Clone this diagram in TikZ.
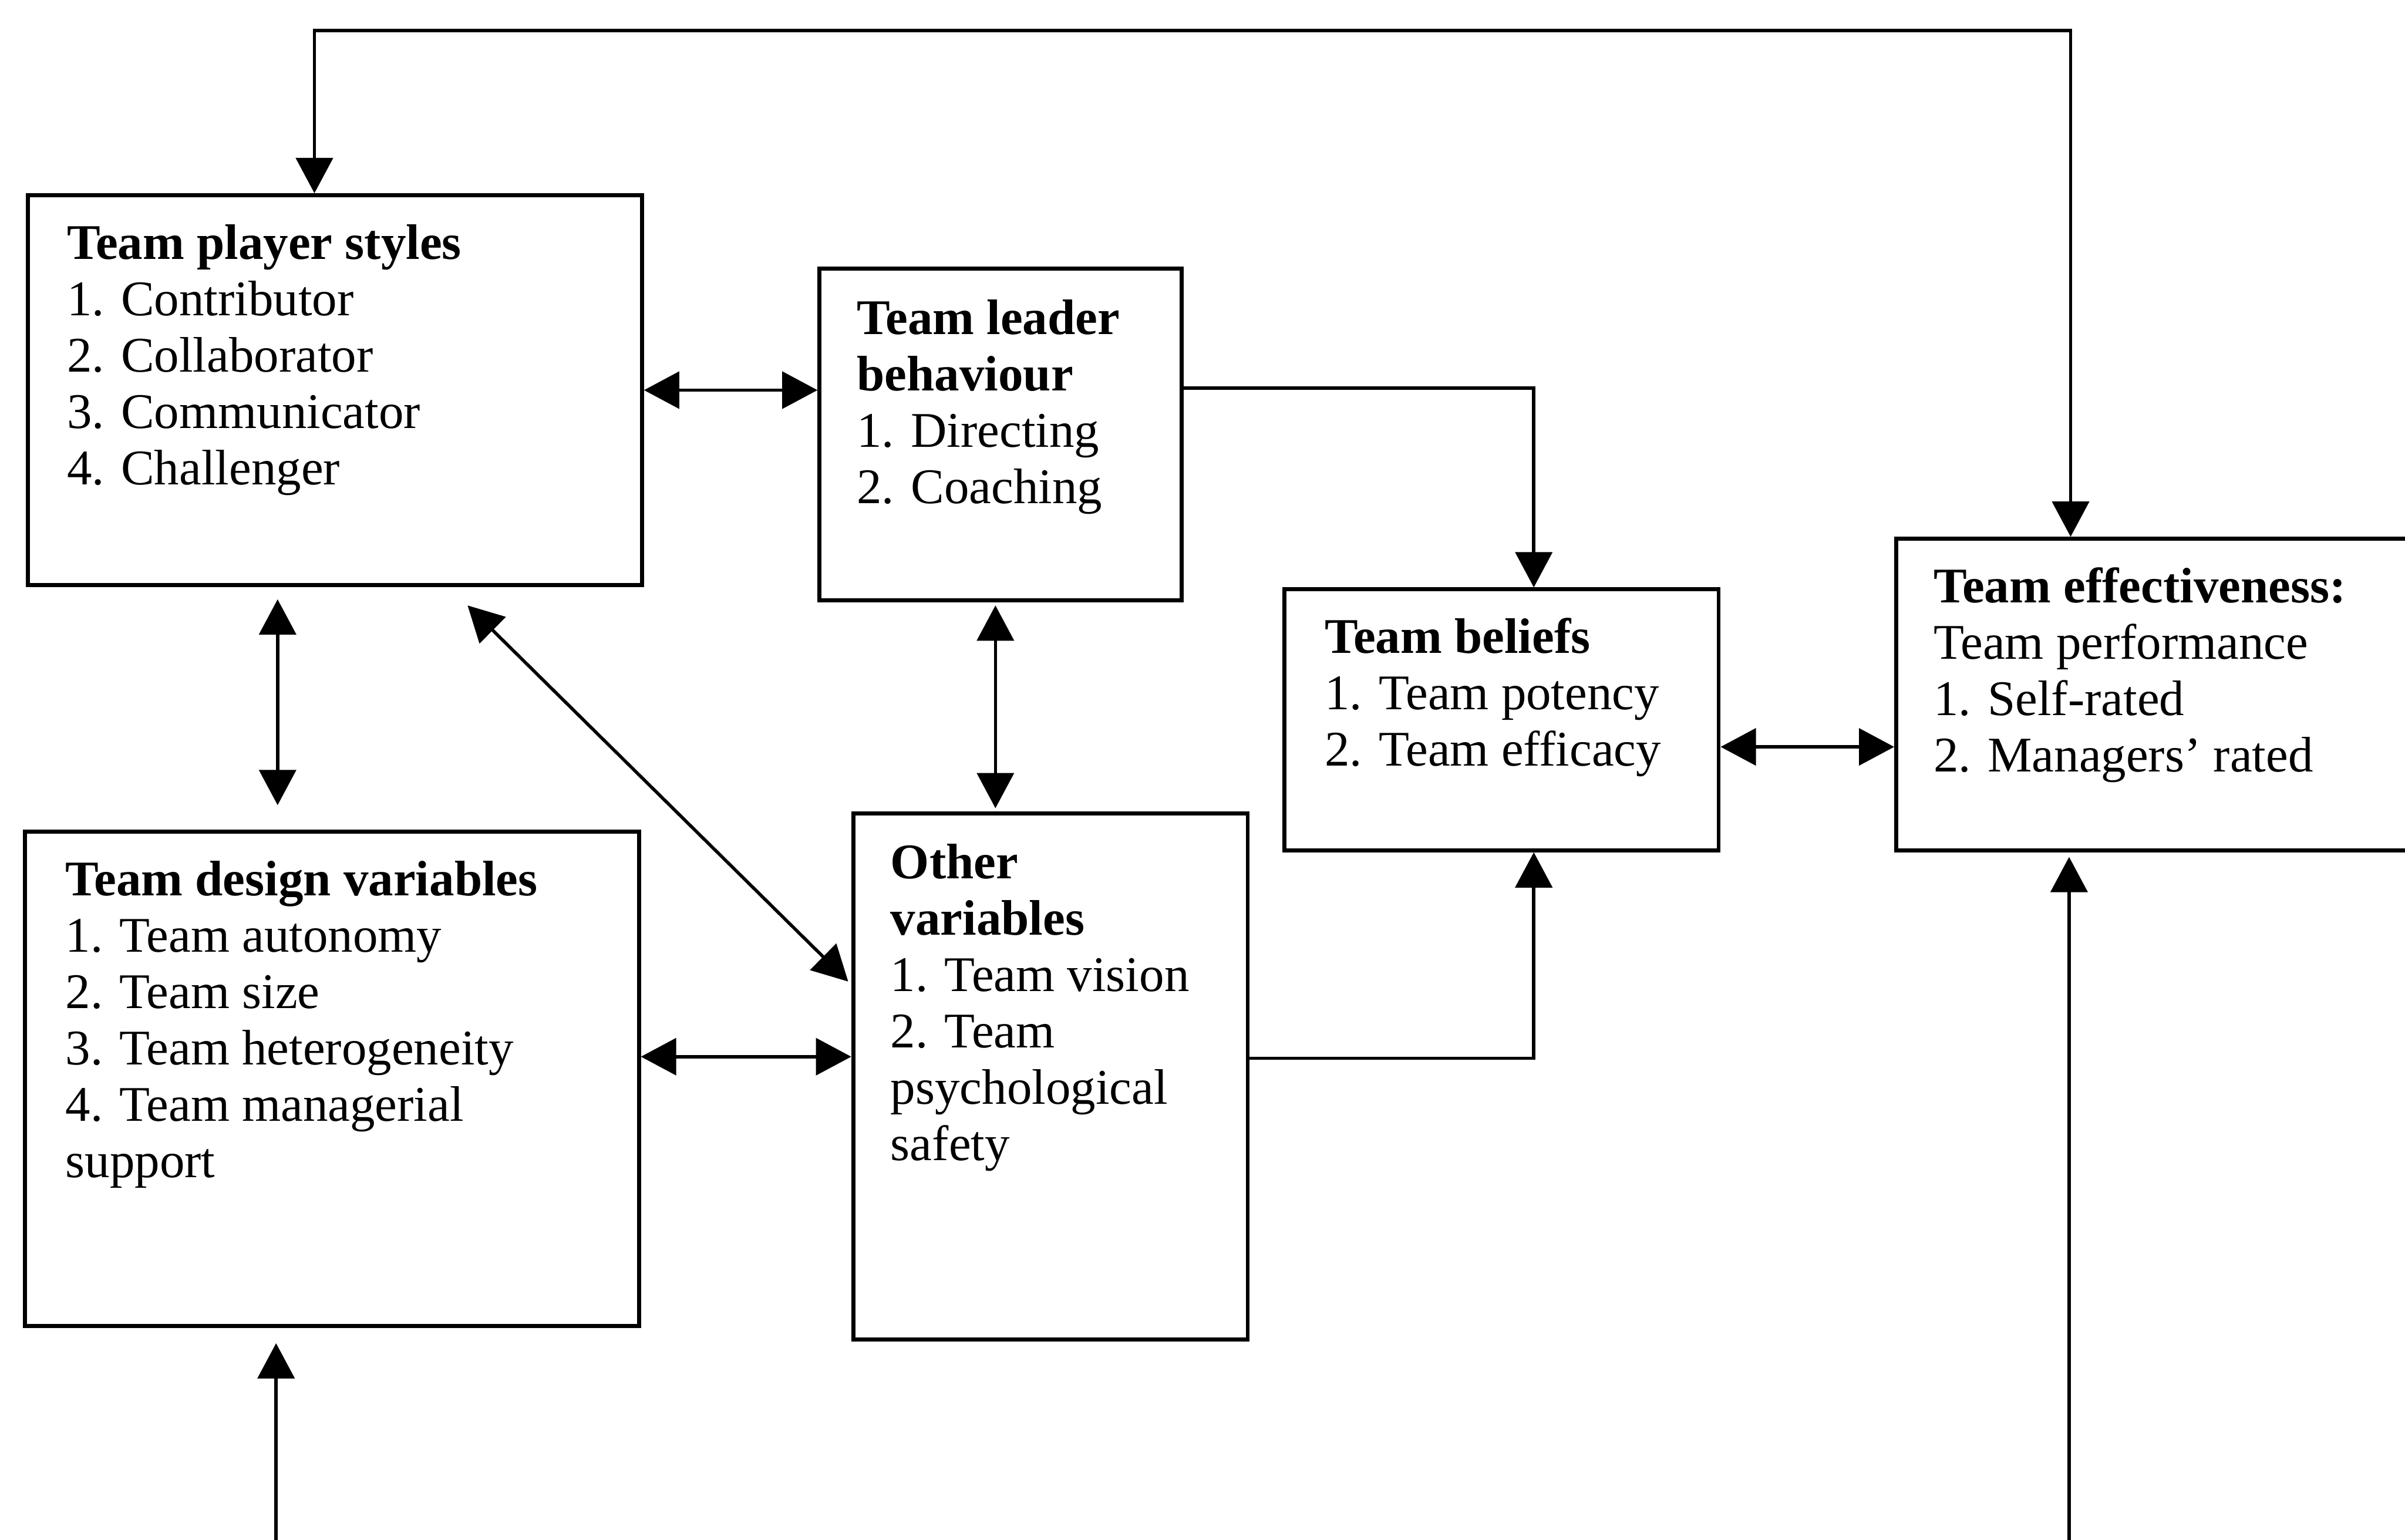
\documentclass[tikz,border=0pt]{standalone}
\usepackage{fontspec}
\setmainfont{Liberation Serif}
\usetikzlibrary{arrows.meta,calc}

\begin{document}
\begin{tikzpicture}[x=0.01cm,y=-0.01cm,
  box/.style={draw, line width=0.75pt, inner sep=0pt, anchor=north west},
  txt/.style={inner sep=0pt, anchor=base west, font=\fontsize{9.25pt}{10.45pt}\selectfont},
  conn/.style={line width=0.6pt},
  head/.style={-{Triangle[length=0.23cm,width=0.24cm]}},
  dbl/.style={{Triangle[length=0.23cm,width=0.24cm]}-{Triangle[length=0.23cm,width=0.24cm]}}
]
\useasboundingbox (0,0) rectangle (1568,1004);
\clip (0,0) rectangle (1568,1004);

% boxes
\node[box, minimum width=4cm,    minimum height=2.54cm] (tps) at (17,126) {};
\node[box, minimum width=2.36cm, minimum height=2.16cm] (tlb) at (533,174) {};
\node[box, minimum width=2.83cm, minimum height=1.70cm] (tb)  at (836,383) {};
\node[box, minimum width=4.2cm,  minimum height=2.03cm] (te)  at (1235,350) {};
\node[box, minimum width=4cm,    minimum height=3.22cm] (tdv) at (15,541) {};
\node[box, minimum width=2.57cm, minimum height=3.43cm] (ov)  at (555,529) {};

% box texts
\node[txt] (tpsT) at (43,169) {\parbox[t]{3.8cm}{\raggedright
  \textbf{Team player styles}\\1. Contributor\\2. Collaborator\\3. Communicator\\4. Challenger}};
\node[txt] (tlbT) at (558,218) {\parbox[t]{2.2cm}{\raggedright
  \textbf{Team leader}\\\textbf{behaviour}\\1. Directing\\2. Coaching}};
\node[txt] (tbT) at (863,426) {\parbox[t]{2.6cm}{\raggedright
  \textbf{Team beliefs}\\1. Team potency\\2. Team efficacy}};
\node[txt] (teT) at (1260,393) {\parbox[t]{3cm}{\raggedright
  \textbf{Team effectiveness:}\\Team performance\\1. Self-rated\\2. Managers’ rated}};
\node[txt] (tdvT) at (42,584) {\parbox[t]{3.8cm}{\raggedright
  \textbf{Team design variables}\\1. Team autonomy\\2. Team size\\3. Team heterogeneity\\4. Team managerial\\support}};
\node[txt] (ovT) at (580,573) {\parbox[t]{2.4cm}{\raggedright
  \textbf{Other}\\\textbf{variables}\\1. Team vision\\2. Team\\psychological\\safety}};

% free ends of the incoming lines at the lower edge
\coordinate (inL) at (180,1004);
\coordinate (inR) at (1349,1004);

% connectors
\draw[conn,dbl] (tps.east) -- (tps.east -| tlb.west);
\draw[conn,dbl] ($(tps.south west)+(164,8)$) -- ($(tdv.north west)+(166,-16)$);
\draw[conn,dbl] ($(tps.south east)+(-115,12)$) -- ($(ov.north west)+(-2,111)$);
\draw[conn,dbl] ($(tlb.south west)+(116,2)$) -- ($(ov.north west)+(94,-2)$);
\draw[conn,head] ($(tlb.north east)+(0,79)$) -| ($(tb.north west)+(164,0)$);
\draw[conn,dbl] ($(tdv.north east)+(0,148)$) -- ($(ov.north west)+(0,160)$);
\draw[conn,head] ($(ov.north east)+(0,161)$) -| ($(tb.south west)+(164,0)$);
\draw[conn,dbl] ($(tb.north east)+(0,104)$) -- ($(te.north west)+(0,137)$);
\draw[conn,dbl] ($(te.north west)+(115,0)$) -- ++(0,-330) -| ($(tps.north west)+(188,0)$);
\draw[conn,head] (inL) -- ($(tdv.south west)+(165,10)$);
\draw[conn,head] (inR) -- ($(te.south west)+(114,3)$);
\end{tikzpicture}
\end{document}
